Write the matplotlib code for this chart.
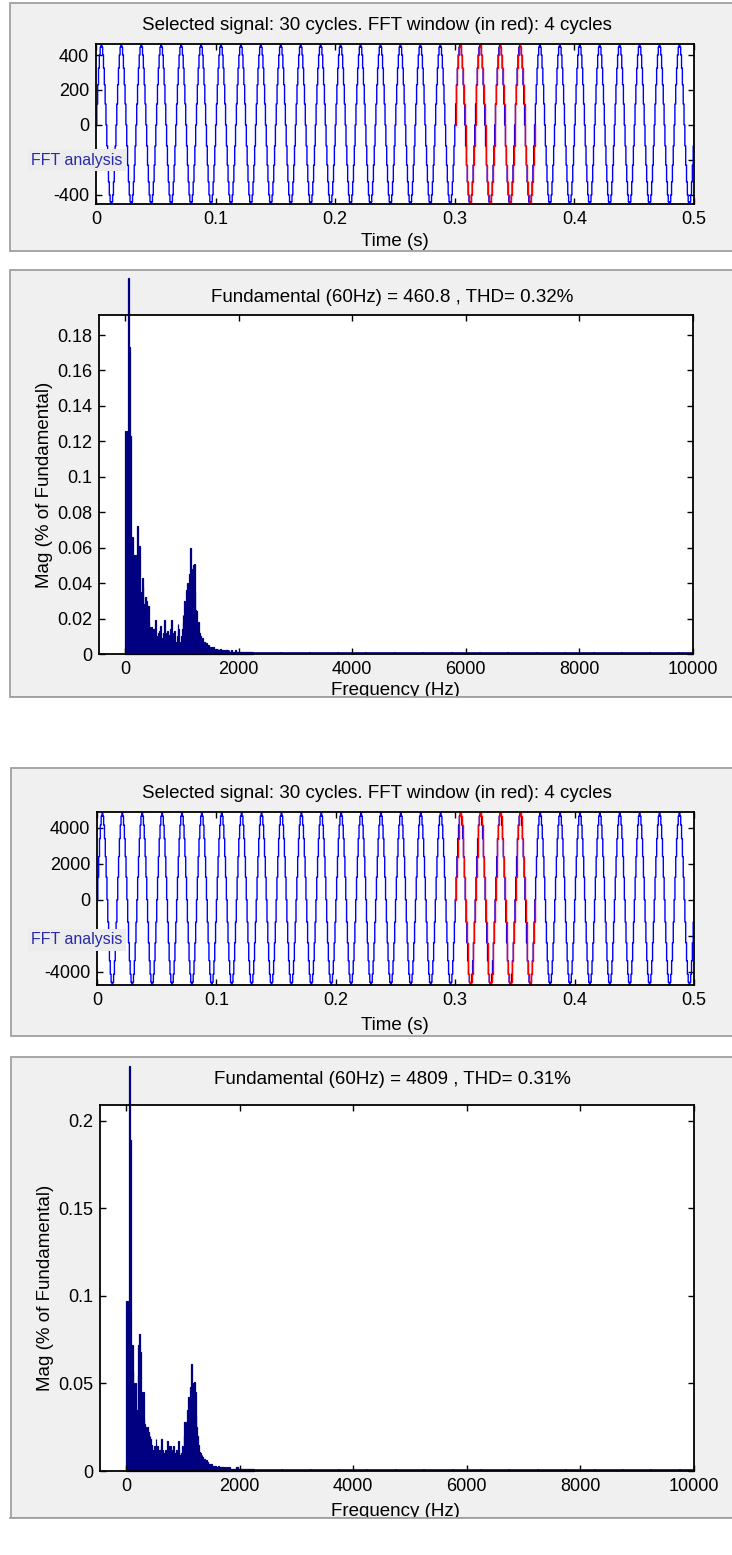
import numpy as np
import matplotlib.pyplot as plt
from matplotlib.patches import Rectangle

plt.close('all')
plt.rcParams['font.family'] = ['Liberation Sans', 'DejaVu Sans']

W, H = 732, 1555

# one 60 Hz cycle of the stepped inverter output, 24 held samples
cycle_a = [0, 120, 230, 325, 400, 445, 463, 445, 400, 325, 230, 120,
           0, -120, -230, -325, -400, -440, -452, -440, -400, -325, -230, -120]
cycle_b = [0, 1250, 2400, 3400, 4150, 4650, 4880, 4650, 4150, 3400, 2400, 1250,
           0, -1250, -2400, -3400, -4150, -4600, -4750, -4600, -4150, -3400, -2400, -1250]
n_cycles = 30
f0 = 60
red_start = 0.3
red_cycles = 4

# FFT magnitudes (% of fundamental), 15 Hz bins from 0 Hz; the 60 Hz bar runs off the axes
bin_hz = 15
mag_a = [0.126, 0.120, 0.105, 0.126, 0.212, 0.173, 0.123, 0.065, 0.056, 0.066,
         0.050, 0.056, 0.040, 0.056, 0.045, 0.072, 0.050, 0.061, 0.035, 0.030,
         0.043, 0.038, 0.028, 0.026, 0.032, 0.030, 0.020, 0.027, 0.018, 0.015,
         0.014, 0.015, 0.008, 0.014, 0.006, 0.012, 0.019, 0.010, 0.007, 0.012,
         0.013, 0.006, 0.016, 0.009, 0.005, 0.012, 0.019, 0.010, 0.008, 0.012,
         0.013, 0.005, 0.011, 0.014, 0.019, 0.010, 0.006, 0.012, 0.013, 0.007,
         0.005, 0.010, 0.017, 0.014, 0.007, 0.005, 0.010, 0.014, 0.022, 0.018,
         0.030, 0.026, 0.036, 0.040, 0.033, 0.028, 0.045, 0.060, 0.040, 0.048,
         0.050, 0.051, 0.035, 0.025, 0.024, 0.015, 0.018, 0.012, 0.010, 0.009,
         0.008, 0.009, 0.006, 0.007, 0.006, 0.005, 0.006, 0.004, 0.005, 0.004,
         0.003, 0.004, 0.003, 0.003, 0.004, 0.002, 0.003, 0.003, 0.002, 0.003,
         0.002, 0.002, 0.003, 0.002, 0.002, 0.002, 0.002, 0.001, 0.002, 0.002,
         0.002, 0.001, 0.002, 0.001, 0.001, 0.002, 0.001, 0.001, 0.001, 0.001,
         0.002, 0.001, 0.001, 0.001, 0.001, 0.001, 0.001, 0.001, 0.001, 0.001,
         0.001, 0.001, 0.001, 0.001, 0.001, 0.001, 0.001, 0.001, 0.001, 0.001, 0.001]
mag_b = [0.097, 0.090, 0.080, 0.097, 0.231, 0.189, 0.060, 0.072, 0.057, 0.050,
         0.040, 0.050, 0.035, 0.030, 0.055, 0.072, 0.078, 0.068, 0.045, 0.040,
         0.045, 0.030, 0.027, 0.025, 0.022, 0.025, 0.022, 0.018, 0.020, 0.018,
         0.015, 0.012, 0.010, 0.014, 0.008, 0.018, 0.012, 0.014, 0.008, 0.012,
         0.010, 0.014, 0.018, 0.012, 0.008, 0.010, 0.012, 0.008, 0.012, 0.017,
         0.014, 0.010, 0.014, 0.012, 0.008, 0.010, 0.014, 0.008, 0.010, 0.012,
         0.008, 0.017, 0.012, 0.009, 0.006, 0.010, 0.014, 0.012, 0.020, 0.028,
         0.028, 0.025, 0.035, 0.042, 0.038, 0.030, 0.048, 0.061, 0.045, 0.050,
         0.051, 0.045, 0.032, 0.025, 0.020, 0.015, 0.011, 0.010, 0.008, 0.009,
         0.008, 0.006, 0.007, 0.005, 0.006, 0.004, 0.005, 0.004, 0.004, 0.003,
         0.004, 0.003, 0.003, 0.002, 0.003, 0.003, 0.002, 0.002, 0.003, 0.002,
         0.002, 0.002, 0.002, 0.002, 0.002, 0.001, 0.002, 0.002, 0.001, 0.002,
         0.001, 0.002, 0.001, 0.001, 0.001, 0.001, 0.001, 0.001, 0.001, 0.001,
         0.002, 0.002, 0.001, 0.001, 0.001, 0.001, 0.001, 0.001, 0.001, 0.001,
         0.001, 0.001, 0.001, 0.001, 0.001, 0.001, 0.001, 0.001, 0.001, 0.001, 0.001]
tail_freqs = [2500, 3000, 3500, 4000, 4500, 5000, 5500, 6000,
              6500, 7000, 7500, 8000, 8500, 9000, 9500, 10000]
tail_a = [0.0007, 0.0006, 0.0006, 0.0007, 0.0006, 0.0006, 0.0006, 0.0006,
          0.0006, 0.0006, 0.0006, 0.0006, 0.0006, 0.0006, 0.0006, 0.0006]
tail_b = [0.0007, 0.0007, 0.0007, 0.0007, 0.0007, 0.0007, 0.0007, 0.0007,
          0.0007, 0.0007, 0.0007, 0.0007, 0.0007, 0.0007, 0.0007, 0.0007]

time_title = 'Selected signal: 30 cycles. FFT window (in red): 4 cycles'
fft_title_a = 'Fundamental (60Hz) = 460.8 , THD= 0.32%'
fft_title_b = 'Fundamental (60Hz) = 4809 , THD= 0.31%'

time_ticks = [0, 0.1, 0.2, 0.3, 0.4, 0.5]
freq_ticks = [0, 2000, 4000, 6000, 8000, 10000]
yticks_a = [-400, -200, 0, 200, 400]
yticks_b = [-4000, -2000, 0, 2000, 4000]
mag_ticks_a = [0, 0.02, 0.04, 0.06, 0.08, 0.1, 0.12, 0.14, 0.16, 0.18]
mag_ticks_b = [0, 0.05, 0.1, 0.15, 0.2]

panel_bg = '#f0f0f0'
navy = '#000080'
TICK_FS = 13
TEXT_FS = 13.5


def box(x0, y0, x1, y1):
    return [x0 / W, 1 - y1 / H, (x1 - x0) / W, (y1 - y0) / H]


def fx(x):
    return x / W


def fy(y):
    return 1 - y / H


fig = plt.figure(figsize=(W / 100, H / 100), dpi=100)
fig.patch.set_facecolor('white')

# grey MATLAB panels
panels = [(10, 3, 745, 251), (10, 270, 745, 697), (11, 768, 745, 1036), (11, 1057, 745, 1518)]
for x0, y0, x1, y1 in panels:
    fig.add_artist(Rectangle((fx(x0), fy(y1)), (x1 - x0) / W, (y1 - y0) / H,
                             transform=fig.transFigure, facecolor=panel_bg,
                             edgecolor='#a0a0a0', lw=1.3, zorder=-10))


def style(ax):
    ax.set_facecolor('white')
    for s in ax.spines.values():
        s.set_linewidth(1.3)
    ax.tick_params(direction='in', length=4, width=1, top=True, right=True,
                   labelsize=TICK_FS, pad=5)


def time_panel(rect, cycle, yticks, ylim, title_y, label_y, btn_y):
    ax = fig.add_axes(box(*rect))
    style(ax)
    n = len(cycle)
    t = np.arange(n_cycles * n + 1) / (f0 * n)
    v = np.append(np.tile(cycle, n_cycles), cycle[0])
    ax.plot(t, v, color='#0000ff', lw=1, drawstyle='steps-post')
    i0 = int(round(red_start * f0 * n))
    i1 = i0 + red_cycles * n
    ax.plot(t[i0:i1 + 1], v[i0:i1 + 1], color='#ff0000', lw=1, drawstyle='steps-post')
    ax.set_xlim(0, 0.5)
    ax.set_ylim(*ylim)
    ax.set_xticks(time_ticks)
    ax.set_xticklabels(['0', '0.1', '0.2', '0.3', '0.4', '0.5'])
    ax.set_yticks(yticks)
    # the second tick label sits behind the "FFT analysis" button
    ax.set_yticklabels(['' if i == 1 else str(y) for i, y in enumerate(yticks)])
    fig.text(fx(377), fy(title_y), time_title, ha='center', va='center', fontsize=TEXT_FS)
    fig.text(fx(395), fy(label_y), 'Time (s)', ha='center', va='center', fontsize=TEXT_FS)
    fig.text(fx(31), fy(btn_y), 'FFT analysis', ha='left', va='center', fontsize=11.5,
             color='#2a2aa8',
             bbox=dict(boxstyle='square,pad=0.2', facecolor='#ececec', edgecolor='none'))
    return ax


def fft_panel(rect, mags, tail, yticks, ylim, title, title_y, label_y, panel_bottom):
    ax = fig.add_axes(box(*rect))
    style(ax)
    freqs = np.arange(len(mags)) * bin_hz
    ax.bar(freqs, mags, width=bin_hz, color=navy, edgecolor=navy, lw=0.9, clip_on=False)
    ax.bar(tail_freqs, tail, width=500, color=navy, edgecolor=navy, lw=1.2)
    ax.set_xlim(-460, 10000)
    ax.set_ylim(*ylim)
    ax.set_xticks(freq_ticks)
    ax.set_xticklabels([str(f) for f in freq_ticks])
    ax.set_yticks(yticks)
    ax.set_yticklabels([('%g' % y) for y in yticks])
    ax.set_ylabel('Mag (% of Fundamental)', fontsize=TEXT_FS, labelpad=3)
    fig.text(fx(392), fy(title_y), title, ha='center', va='center', fontsize=TEXT_FS)
    fig.text(fx(395), fy(label_y), 'Frequency (Hz)', ha='center', va='center', fontsize=TEXT_FS)
    # the panel edge cuts through the x label, as in the screenshot
    fig.add_artist(Rectangle((0, fy(panel_bottom + 30)), 1, 30 / H, transform=fig.transFigure,
                             facecolor='white', edgecolor='none', zorder=5))
    fig.add_artist(plt.Line2D([fx(10), 1], [fy(panel_bottom)] * 2, transform=fig.transFigure,
                              color='#a0a0a0', lw=1.3, zorder=6))
    return ax


time_panel((96, 44, 694, 204), cycle_a, yticks_a, (-452, 463), 25, 242, 160)
fft_panel((99, 315, 693, 654), mag_a, tail_a, mag_ticks_a, (0, 0.1913),
          fft_title_a, 297, 691, 697)
fig.text(0.5, fy(718), '(a)', ha='center', va='center', fontsize=13, family='Liberation Serif')

time_panel((97, 812, 694, 985), cycle_b, yticks_b, (-4750, 4880), 793, 1025, 940)
fft_panel((100, 1105, 694, 1471), mag_b, tail_b, mag_ticks_b, (0, 0.209),
          fft_title_b, 1080, 1512, 1518)
fig.text(0.5, fy(1538), '(b)', ha='center', va='center', fontsize=13, family='Liberation Serif')

plt.savefig('out.png', dpi=100)
